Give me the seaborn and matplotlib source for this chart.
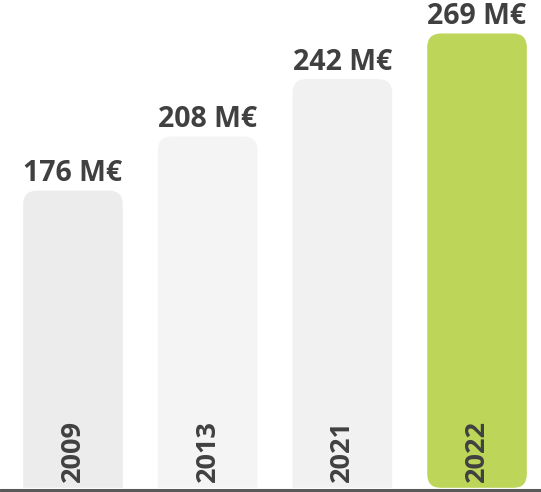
import matplotlib
matplotlib.use('Agg')
import matplotlib.pyplot as plt
from matplotlib.patches import FancyBboxPatch
import seaborn as sns

years = ['2009', '2013', '2021', '2022']
values = [176, 208, 242, 269]
value_labels = ['176 M€', '208 M€', '242 M€', '269 M€']
bar_colors = ['#ececec', '#f4f4f4', '#f1f1f1', '#bdd65a']
highlight = '2022'

sns.set_theme(style='white')
plt.rcParams['font.family'] = ['Open Sans', 'DejaVu Sans']

fig = plt.figure(figsize=(5.41, 4.92), dpi=100)
ax = fig.add_axes([0, 0, 1, 1])

sns.barplot(x=years, y=values, hue=years, palette=bar_colors, legend=False,
            width=0.74, ax=ax, saturation=1)

ax.set_xlim(-0.542, 3.475)
ax.set_ylim(-2.37, 288.8)

# pixels per data unit, used to keep the corners round
px_x = fig.get_figwidth() * fig.dpi / (ax.get_xlim()[1] - ax.get_xlim()[0])
px_y = fig.get_figheight() * fig.dpi / (ax.get_ylim()[1] - ax.get_ylim()[0])
radius = 14 / px_x
aspect = px_x / px_y

text_color = '#404040'
for patch, year, label in zip(list(ax.patches), years, value_labels):
    x, w, h = patch.get_x(), patch.get_width(), patch.get_height()
    patch.set_visible(False)
    y0 = 0 if year == highlight else -radius * aspect * 2
    box = FancyBboxPatch((x, y0), w, h - y0,
                         boxstyle=f'round,pad=0,rounding_size={radius}',
                         mutation_aspect=aspect, facecolor=patch.get_facecolor(),
                         edgecolor='none', zorder=1)
    ax.add_patch(box)
    cx = x + w / 2
    ax.text(cx, h + 5.5, label, ha='center', va='baseline', fontsize=20.5,
            fontweight='bold', color=text_color, zorder=4)
    ax.text(cx, 3.5, year, ha='center', va='bottom', rotation=90, fontsize=19.5,
            fontweight='bold', color=text_color, zorder=4)

# hide anything below the baseline, then draw the baseline
ax.axhspan(ax.get_ylim()[0], 0, color='white', zorder=2)
ax.axhline(-0.9, color='#595959', linewidth=2.2, zorder=3)

ax.set_axis_off()
fig.savefig('out.png', dpi=100)
